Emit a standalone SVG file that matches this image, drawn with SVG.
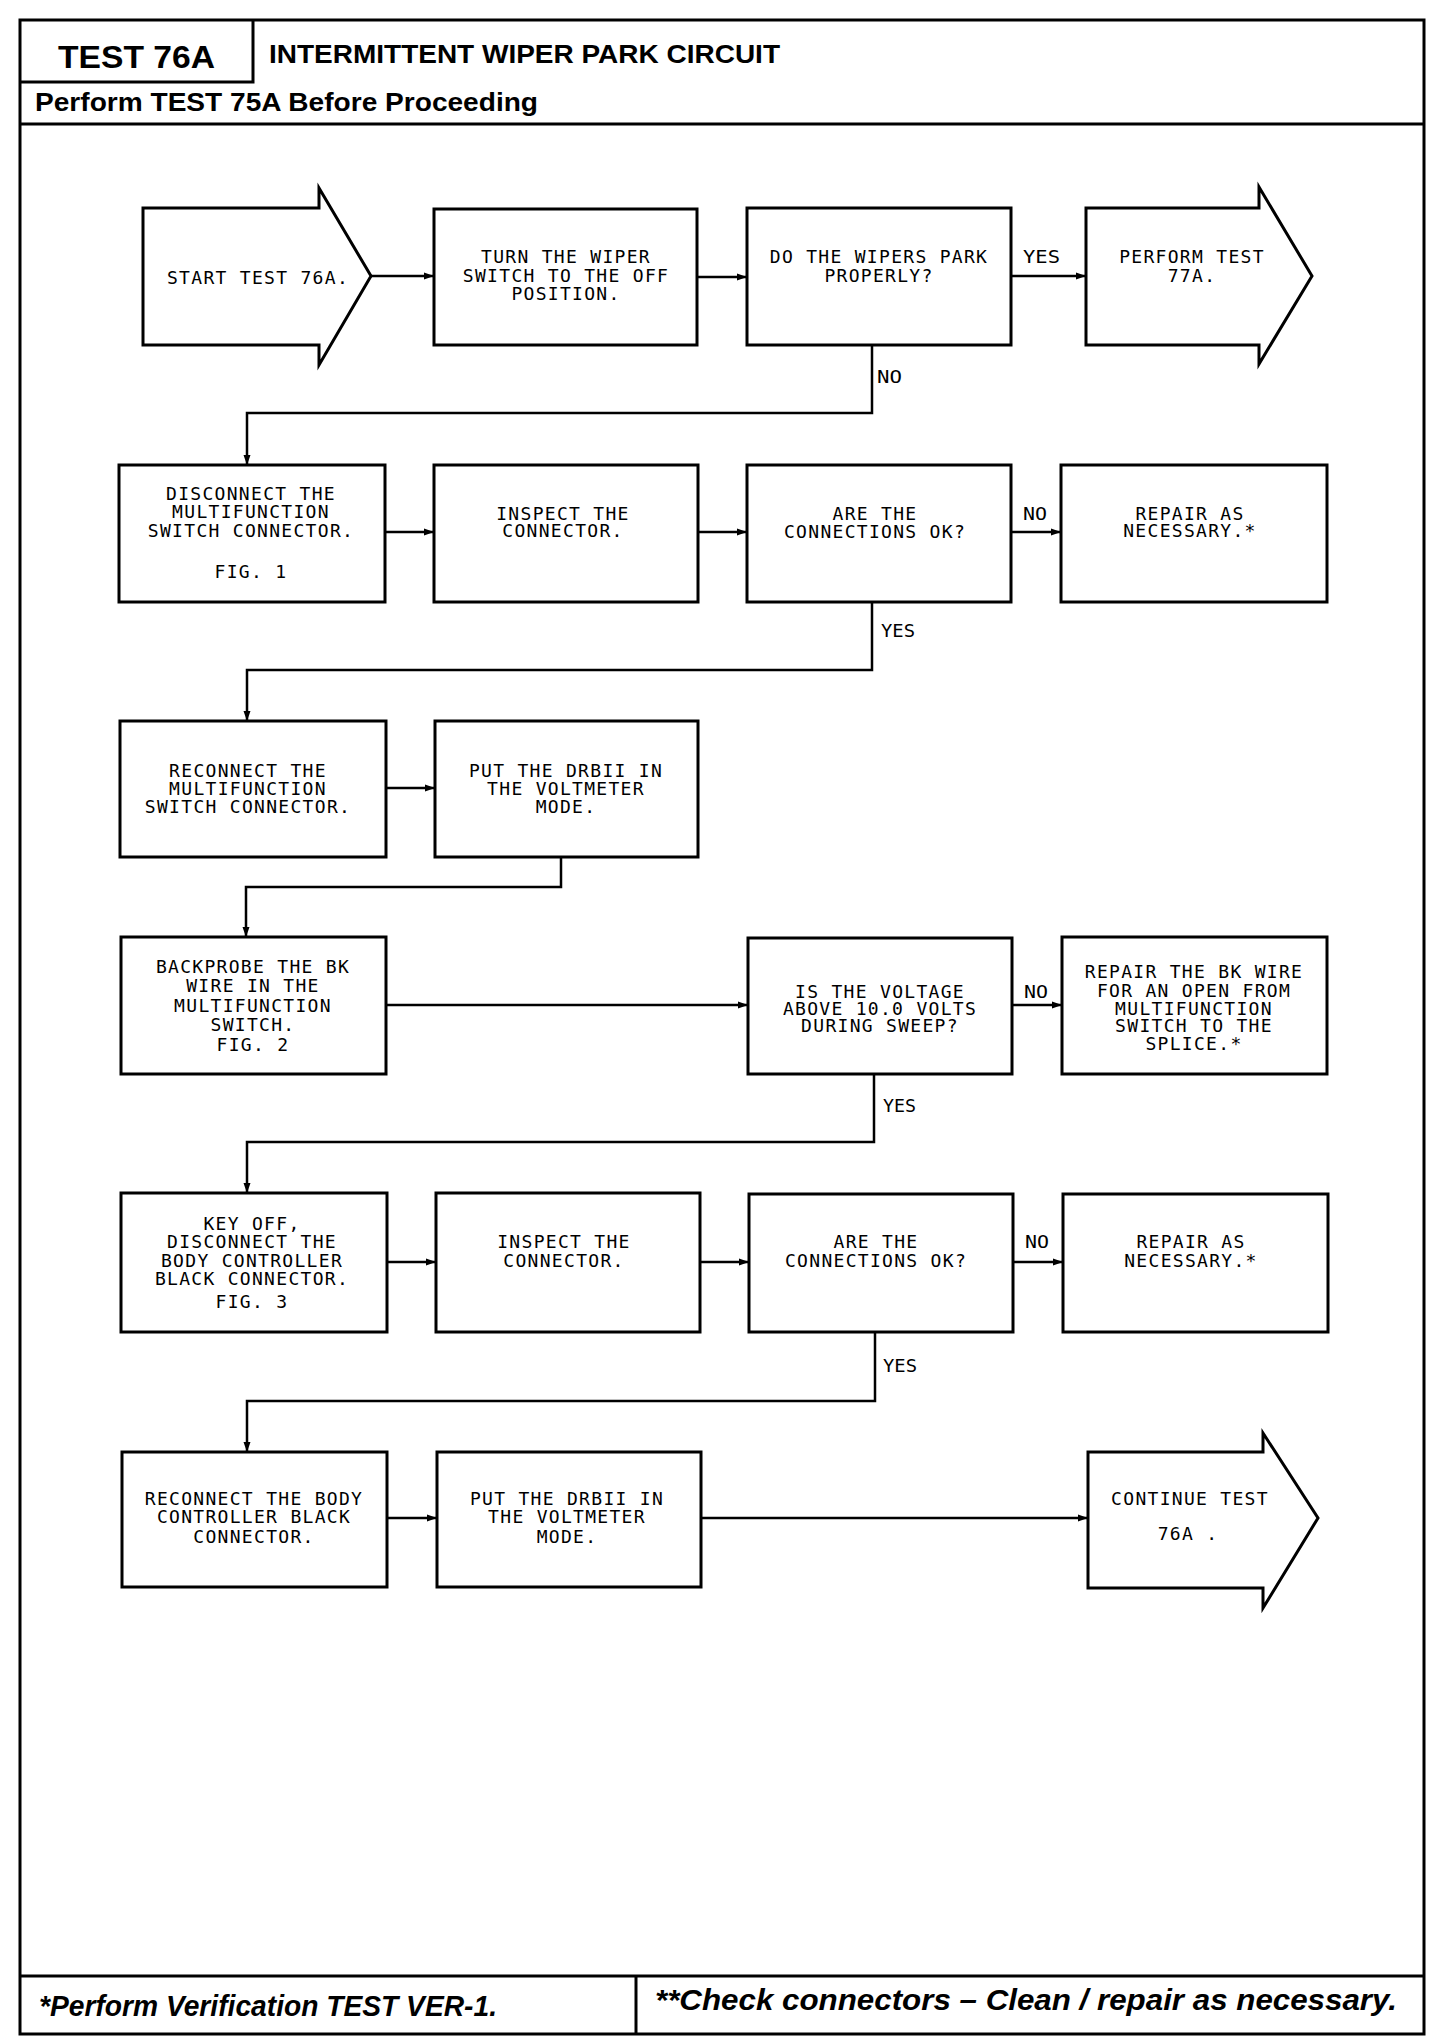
<svg xmlns="http://www.w3.org/2000/svg" width="1456" height="2040" viewBox="0 0 1456 2040">
<defs>
<style>
.frame{fill:none;stroke:#000;stroke-width:3}
.box{fill:#fff;stroke:#000;stroke-width:3}
.t{font-family:"DejaVu Sans Mono","Liberation Mono",monospace;font-size:18px;letter-spacing:1.3px;text-anchor:middle;fill:#000}
.lbl{font-family:"DejaVu Sans Mono","Liberation Mono",monospace;font-size:18px;fill:#000}
.c{fill:none;stroke:#000;stroke-width:2.5}
.hb{font-family:"Liberation Sans",Arial,sans-serif;font-weight:bold;fill:#000}
.fi{font-family:"Liberation Sans",Arial,sans-serif;font-weight:bold;font-style:italic;fill:#000}
</style>
<marker id="ah" markerUnits="userSpaceOnUse" markerWidth="12" markerHeight="10" refX="10" refY="5" orient="auto">
<path d="M0,1.5 L10,5 L0,8.5 Z" fill="#000"/>
</marker>
</defs>
<rect width="1456" height="2040" fill="#fff"/>

<g id="frame">
<rect class="frame" x="20" y="20" width="1404" height="2014"/>
<path class="frame" d="M253,20 V82 H20"/>
<line class="frame" x1="20" y1="124" x2="1424" y2="124"/>
<line class="frame" x1="20" y1="1976" x2="1424" y2="1976"/>
<line class="frame" x1="636" y1="1976" x2="636" y2="2034"/>
<text class="hb" x="58" y="68" font-size="32" textLength="157" lengthAdjust="spacingAndGlyphs">TEST 76A</text>
<text class="hb" x="269" y="63" font-size="25" textLength="511" lengthAdjust="spacingAndGlyphs">INTERMITTENT WIPER PARK CIRCUIT</text>
<text class="hb" x="35" y="111" font-size="25" textLength="503" lengthAdjust="spacingAndGlyphs">Perform TEST 75A Before Proceeding</text>
<text class="fi" x="39" y="2016" font-size="30" textLength="458" lengthAdjust="spacingAndGlyphs">*Perform Verification TEST VER-1.</text>
<text class="fi" x="655" y="2010" font-size="30" textLength="742" lengthAdjust="spacingAndGlyphs">**Check connectors – Clean / repair as necessary.</text>
</g>

<g id="connectors">
<line class="c" x1="371" y1="276" x2="434" y2="276" marker-end="url(#ah)"/>
<line class="c" x1="697" y1="277" x2="747" y2="277" marker-end="url(#ah)"/>
<line class="c" x1="1011" y1="276" x2="1086" y2="276" marker-end="url(#ah)"/>
<polyline class="c" points="872,345 872,413 247,413 247,465" marker-end="url(#ah)"/>
<line class="c" x1="385" y1="532" x2="434" y2="532" marker-end="url(#ah)"/>
<line class="c" x1="698" y1="532" x2="747" y2="532" marker-end="url(#ah)"/>
<line class="c" x1="1011" y1="532" x2="1061" y2="532" marker-end="url(#ah)"/>
<polyline class="c" points="872,602 872,670 247,670 247,721" marker-end="url(#ah)"/>
<line class="c" x1="386" y1="788" x2="435" y2="788" marker-end="url(#ah)"/>
<polyline class="c" points="561,857 561,887 246,887 246,937" marker-end="url(#ah)"/>
<line class="c" x1="386" y1="1005" x2="748" y2="1005" marker-end="url(#ah)"/>
<line class="c" x1="1012" y1="1005" x2="1062" y2="1005" marker-end="url(#ah)"/>
<polyline class="c" points="874,1074 874,1142 247,1142 247,1193" marker-end="url(#ah)"/>
<line class="c" x1="387" y1="1262" x2="436" y2="1262" marker-end="url(#ah)"/>
<line class="c" x1="700" y1="1262" x2="749" y2="1262" marker-end="url(#ah)"/>
<line class="c" x1="1013" y1="1262" x2="1063" y2="1262" marker-end="url(#ah)"/>
<polyline class="c" points="875,1332 875,1401 247,1401 247,1452" marker-end="url(#ah)"/>
<line class="c" x1="387" y1="1518" x2="437" y2="1518" marker-end="url(#ah)"/>
<line class="c" x1="701" y1="1518" x2="1088" y2="1518" marker-end="url(#ah)"/>
<text class="lbl" x="1023" y="263" textLength="37" lengthAdjust="spacingAndGlyphs">YES</text>
<text class="lbl" x="877" y="383" textLength="25" lengthAdjust="spacingAndGlyphs">NO</text>
<text class="lbl" x="1023" y="520" textLength="24" lengthAdjust="spacingAndGlyphs">NO</text>
<text class="lbl" x="881" y="637" textLength="34" lengthAdjust="spacingAndGlyphs">YES</text>
<text class="lbl" x="1024" y="998" textLength="24" lengthAdjust="spacingAndGlyphs">NO</text>
<text class="lbl" x="883" y="1112" textLength="33" lengthAdjust="spacingAndGlyphs">YES</text>
<text class="lbl" x="1025" y="1248" textLength="24" lengthAdjust="spacingAndGlyphs">NO</text>
<text class="lbl" x="883" y="1372" textLength="34" lengthAdjust="spacingAndGlyphs">YES</text>
</g>

<g id="n-start">
<polygon class="box" points="143,208 319,208 319,188 371,276 319,365 319,345 143,345"/>
<text class="t" x="258" y="284">START TEST 76A.</text>
</g>
<g id="n-turn">
<rect class="box" x="434" y="209" width="263" height="136"/>
<text class="t" x="566" y="263">TURN THE WIPER</text>
<text class="t" x="566" y="282">SWITCH TO THE OFF</text>
<text class="t" x="566" y="300">POSITION.</text>
</g>
<g id="n-park">
<rect class="box" x="747" y="208" width="264" height="137"/>
<text class="t" x="879" y="263">DO THE WIPERS PARK</text>
<text class="t" x="879" y="282">PROPERLY?</text>
</g>
<g id="n-77a">
<polygon class="box" points="1086,208 1259,208 1259,187 1312,276 1259,364 1259,345 1086,345"/>
<text class="t" x="1192" y="263">PERFORM TEST</text>
<text class="t" x="1192" y="282">77A.</text>
</g>

<g id="n-disconnect">
<rect class="box" x="119" y="465" width="266" height="137"/>
<text class="t" x="251" y="500">DISCONNECT THE</text>
<text class="t" x="251" y="518">MULTIFUNCTION</text>
<text class="t" x="251" y="537">SWITCH CONNECTOR.</text>
<text class="t" x="251" y="578">FIG. 1</text>
</g>
<g id="n-inspect1">
<rect class="box" x="434" y="465" width="264" height="137"/>
<text class="t" x="563" y="520">INSPECT THE</text>
<text class="t" x="563" y="537">CONNECTOR.</text>
</g>
<g id="n-ok1">
<rect class="box" x="747" y="465" width="264" height="137"/>
<text class="t" x="875" y="520">ARE THE</text>
<text class="t" x="875" y="538">CONNECTIONS OK?</text>
</g>
<g id="n-repair1">
<rect class="box" x="1061" y="465" width="266" height="137"/>
<text class="t" x="1190" y="520">REPAIR AS</text>
<text class="t" x="1190" y="537">NECESSARY.*</text>
</g>

<g id="n-reconnect1">
<rect class="box" x="120" y="721" width="266" height="136"/>
<text class="t" x="248" y="777">RECONNECT THE</text>
<text class="t" x="248" y="795">MULTIFUNCTION</text>
<text class="t" x="248" y="813">SWITCH CONNECTOR.</text>
</g>
<g id="n-drb1">
<rect class="box" x="435" y="721" width="263" height="136"/>
<text class="t" x="566" y="777">PUT THE DRBII IN</text>
<text class="t" x="566" y="795">THE VOLTMETER</text>
<text class="t" x="566" y="813">MODE.</text>
</g>

<g id="n-backprobe">
<rect class="box" x="121" y="937" width="265" height="137"/>
<text class="t" x="253" y="973">BACKPROBE THE BK</text>
<text class="t" x="253" y="992">WIRE IN THE</text>
<text class="t" x="253" y="1012">MULTIFUNCTION</text>
<text class="t" x="253" y="1031">SWITCH.</text>
<text class="t" x="253" y="1051">FIG. 2</text>
</g>
<g id="n-voltage">
<rect class="box" x="748" y="938" width="264" height="136"/>
<text class="t" x="880" y="998">IS THE VOLTAGE</text>
<text class="t" x="880" y="1015">ABOVE 10.0 VOLTS</text>
<text class="t" x="880" y="1032">DURING SWEEP?</text>
</g>
<g id="n-repair2">
<rect class="box" x="1062" y="937" width="265" height="137"/>
<text class="t" x="1194" y="978">REPAIR THE BK WIRE</text>
<text class="t" x="1194" y="997">FOR AN OPEN FROM</text>
<text class="t" x="1194" y="1015">MULTIFUNCTION</text>
<text class="t" x="1194" y="1032">SWITCH TO THE</text>
<text class="t" x="1194" y="1050">SPLICE.*</text>
</g>

<g id="n-keyoff">
<rect class="box" x="121" y="1193" width="266" height="139"/>
<text class="t" x="252" y="1230">KEY OFF,</text>
<text class="t" x="252" y="1248">DISCONNECT THE</text>
<text class="t" x="252" y="1267">BODY CONTROLLER</text>
<text class="t" x="252" y="1285">BLACK CONNECTOR.</text>
<text class="t" x="252" y="1308">FIG. 3</text>
</g>
<g id="n-inspect2">
<rect class="box" x="436" y="1193" width="264" height="139"/>
<text class="t" x="564" y="1248">INSPECT THE</text>
<text class="t" x="564" y="1267">CONNECTOR.</text>
</g>
<g id="n-ok2">
<rect class="box" x="749" y="1194" width="264" height="138"/>
<text class="t" x="876" y="1248">ARE THE</text>
<text class="t" x="876" y="1267">CONNECTIONS OK?</text>
</g>
<g id="n-repair3">
<rect class="box" x="1063" y="1194" width="265" height="138"/>
<text class="t" x="1191" y="1248">REPAIR AS</text>
<text class="t" x="1191" y="1267">NECESSARY.*</text>
</g>

<g id="n-reconnect2">
<rect class="box" x="122" y="1452" width="265" height="135"/>
<text class="t" x="254" y="1505">RECONNECT THE BODY</text>
<text class="t" x="254" y="1523">CONTROLLER BLACK</text>
<text class="t" x="254" y="1543">CONNECTOR.</text>
</g>
<g id="n-drb2">
<rect class="box" x="437" y="1452" width="264" height="135"/>
<text class="t" x="567" y="1505">PUT THE DRBII IN</text>
<text class="t" x="567" y="1523">THE VOLTMETER</text>
<text class="t" x="567" y="1543">MODE.</text>
</g>
<g id="n-continue">
<polygon class="box" points="1088,1452 1263,1452 1263,1433 1318,1518 1263,1608 1263,1588 1088,1588"/>
<text class="t" x="1190" y="1505">CONTINUE TEST</text>
<text class="t" x="1188" y="1540">76A .</text>
</g>
</svg>
